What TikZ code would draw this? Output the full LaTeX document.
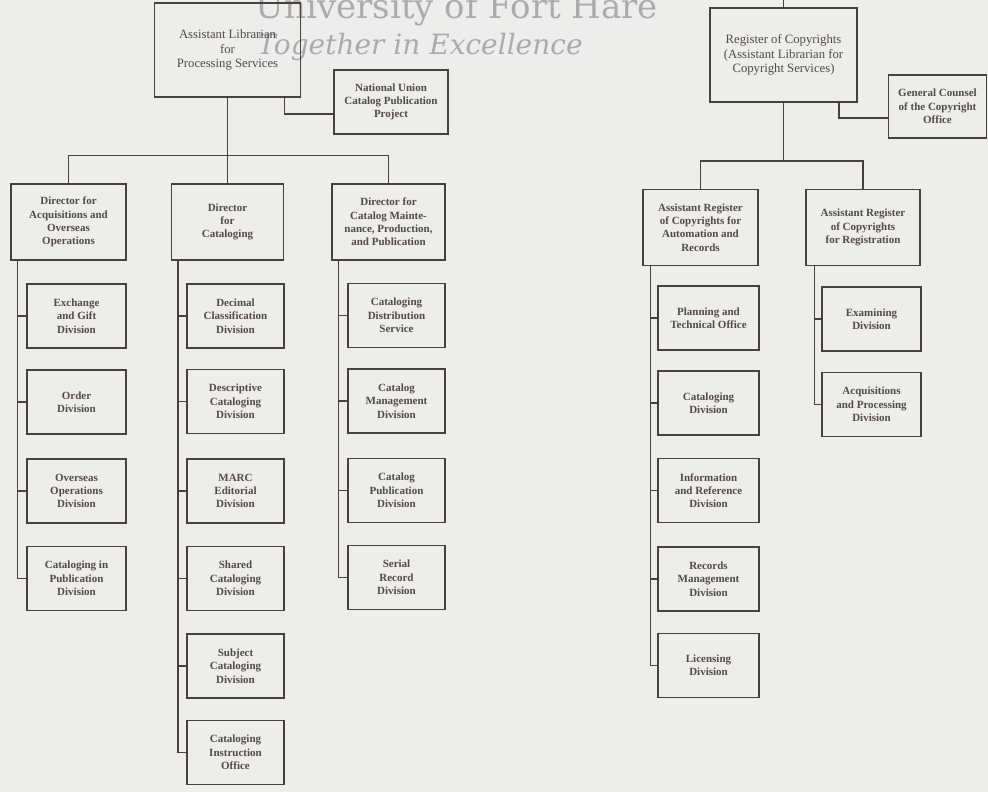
\documentclass[tikz,border=0pt]{standalone}
\usepackage{fontspec}
\setmainfont{Liberation Serif}
\newfontfamily\wmfont{DejaVu Serif}
\usepackage{tikz}
\definecolor{paper}{HTML}{EDEDEB}
\definecolor{ink}{HTML}{4A3E3E}
\definecolor{inktext}{HTML}{54484A}
\definecolor{wm}{HTML}{ABABAB}
\tikzset{
  link/.style={draw=ink, line width=1.5pt},
  unit/.style={draw=ink, line width=1.5pt, align=center, inner sep=0pt,
    text=inktext, font=\fontsize{11}{13.3}\selectfont\bfseries},
  head/.style={unit, font=\fontsize{12.7}{14.3}\selectfont},
  dir/.style={unit, minimum width=#1, minimum height=76pt},
  leaf/.style={unit, minimum width=#1, minimum height=64pt},
  leaf/.default=99pt,
  wmtext/.style={text=wm, inner sep=0pt, anchor=base},
}

\begin{document}
\begin{tikzpicture}[x=1pt, y=-1pt]
  \useasboundingbox[fill=paper] (0,0) rectangle (988,792);

  % watermark
  \node[wmtext, font=\wmfont\fontsize{34}{34}\selectfont] (wmname) at (457,19) {University of Fort Hare};
  \node[wmtext, font=\wmfont\itshape\fontsize{28}{28}\selectfont] (wmmotto) at (420,55) {Together in Excellence};

  % processing services
  \node[head, minimum width=146pt, minimum height=94pt] (proc) at (227.5,50) {Assistant Librarian\\for\\Processing Services};
  \node[unit, minimum width=114pt, minimum height=64pt] (nuc) at (391,102) {National Union\\Catalog Publication\\Project};
  \draw[link] ([xshift=-17pt]proc.south east) |- ([yshift=-12pt]nuc.west);

  \node[dir=115pt] (acqdir) at (68.5,222) {Director for\\Acquisitions and\\Overseas\\Operations};
  \node[dir=112pt] (catdir) at (227.5,222) {Director\\for\\Cataloging};
  \node[dir=113pt] (maintdir) at (388.5,222) {Director for\\Catalog Mainte-\\nance, Production,\\and Publication};
  \draw[link] (proc.south) -- (catdir.north);
  \draw[link] (acqdir.north) -- ++(0,-28) -| (maintdir.north);

  \node[leaf] (exch) at (76.5,316) {Exchange\\and Gift\\Division};
  \node[leaf] (order) at (76.5,402) {Order\\Division};
  \node[leaf] (overseas) at (76.5,491) {Overseas\\Operations\\Division};
  \node[leaf] (cip) at (76.5,578.5) {Cataloging in\\Publication\\Division};
  \foreach \n in {exch,order,overseas,cip}
    \draw[link] ([xshift=7pt]acqdir.south west) |- (\n.west);

  \node[leaf=97pt] (decimal) at (235.5,316) {Decimal\\Classification\\Division};
  \node[leaf=97pt] (descr) at (235.5,401.5) {Descriptive\\Cataloging\\Division};
  \node[leaf=97pt] (marc) at (235.5,491) {MARC\\Editorial\\Division};
  \node[leaf=97pt] (shared) at (235.5,578.5) {Shared\\Cataloging\\Division};
  \node[leaf=97pt] (subject) at (235.5,666) {Subject\\Cataloging\\Division};
  \node[leaf=97pt] (instr) at (235.5,752.5) {Cataloging\\Instruction\\Office};
  \foreach \n in {decimal,descr,marc,shared,subject,instr}
    \draw[link] ([xshift=7pt]catdir.south west) |- (\n.west);

  \node[leaf=97pt] (distrib) at (396.5,315.5) {Cataloging\\Distribution\\Service};
  \node[leaf=97pt] (mgmt) at (396.5,401) {Catalog\\Management\\Division};
  \node[leaf=97pt] (pubdiv) at (396.5,490.5) {Catalog\\Publication\\Division};
  \node[leaf=97pt] (serial) at (396.5,577.5) {Serial\\Record\\Division};
  \foreach \n in {distrib,mgmt,pubdiv,serial}
    \draw[link] ([xshift=7pt]maintdir.south west) |- (\n.west);

  % copyright services
  \coordinate (regtop) at (783.5,0);
  \node[head, minimum width=147pt, minimum height=94pt] (reg) at (783.5,55) {Register of Copyrights\\(Assistant Librarian for\\Copyright Services)};
  \draw[link] (regtop) -- (reg.north);
  \node[unit, minimum width=98pt, minimum height=63pt] (counsel) at (937.5,106.5) {General Counsel\\of the Copyright\\Office};
  \draw[link] ([xshift=-19pt]reg.south east) |- ([yshift=-11.5pt]counsel.west);

  \node[dir=115pt] (autodir) at (700.5,227.5) {Assistant Register\\of Copyrights for\\Automation and\\Records};
  \node[dir=114pt] (regdir) at (863,227.5) {Assistant Register\\of Copyrights\\for Registration};
  \draw[link] (reg.south) -- ++(0,59.5);
  \draw[link] (autodir.north) -- ++(0,-28) -| (regdir.north);

  \node[leaf=101pt] (plan) at (708.5,318) {Planning and\\Technical Office};
  \node[leaf=101pt] (catdiv) at (708.5,403) {Cataloging\\Division};
  \node[leaf=101pt] (inforef) at (708.5,490.5) {Information\\and Reference\\Division};
  \node[leaf=101pt] (records) at (708.5,579) {Records\\Management\\Division};
  \node[leaf=101pt] (licens) at (708.5,665.5) {Licensing\\Division};
  \foreach \n in {plan,catdiv,inforef,records,licens}
    \draw[link] ([xshift=8pt]autodir.south west) |- (\n.west);

  \node[leaf] (exam) at (871.5,319) {Examining\\Division};
  \node[leaf] (acqproc) at (871.5,404.5) {Acquisitions\\and Processing\\Division};
  \foreach \n in {exam,acqproc}
    \draw[link] ([xshift=9pt]regdir.south west) |- (\n.west);
\end{tikzpicture}
\end{document}
